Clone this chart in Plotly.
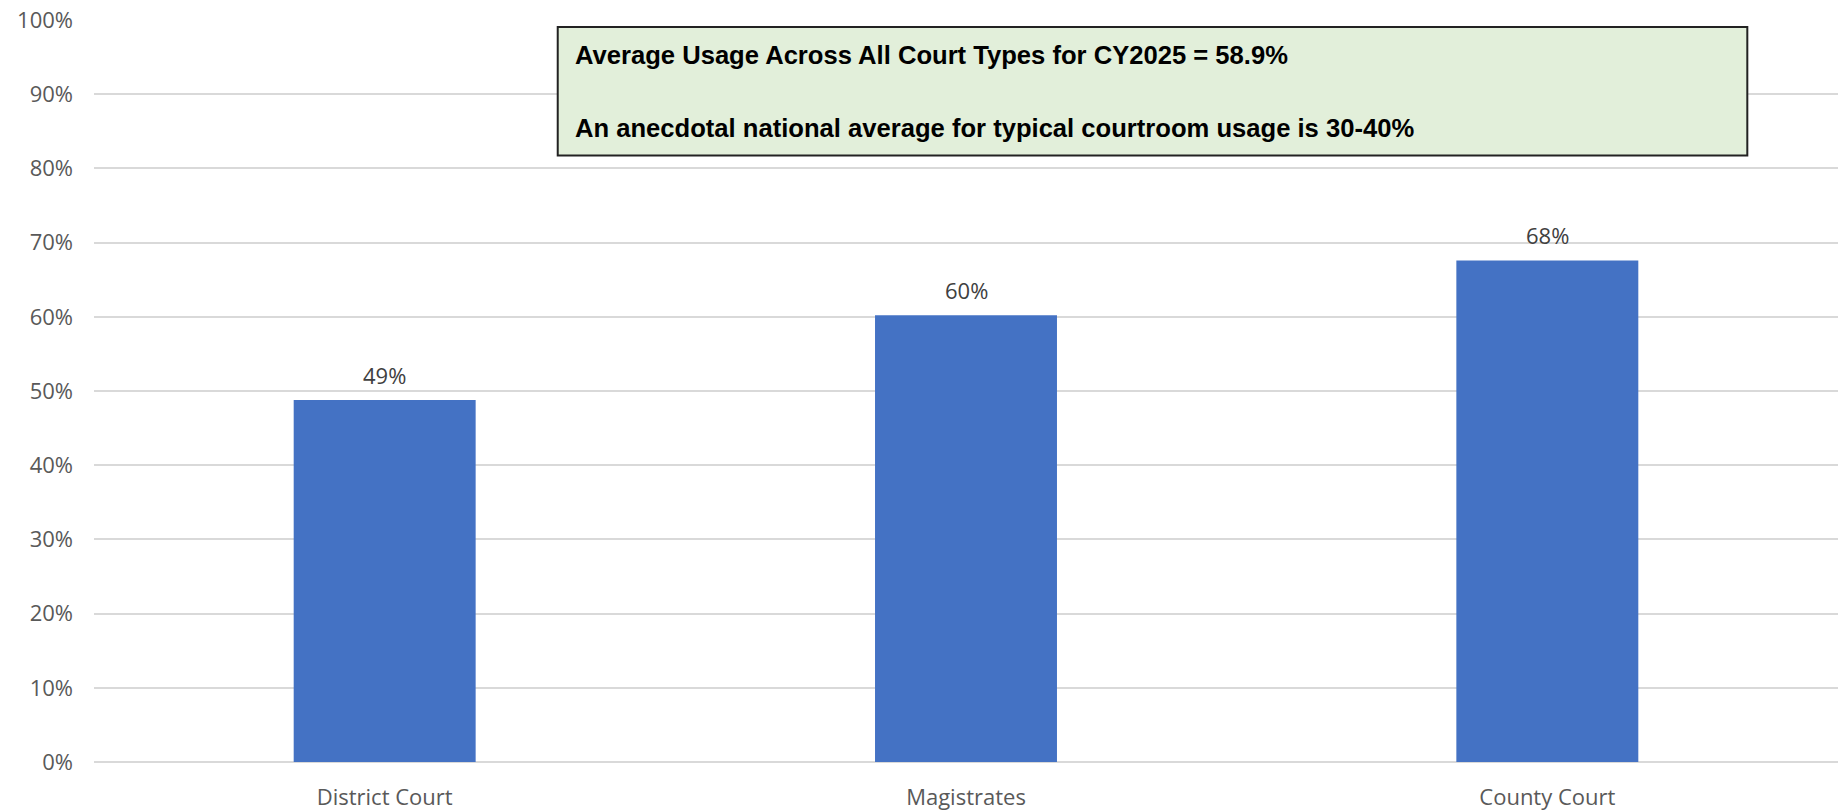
import plotly.graph_objects as go

categories = ["District Court", "Magistrates", "County Court"]
usage = [0.488, 0.602, 0.676]
label_text = ["49%", "60%", "68%"]
y_ticks = [0, 0.1, 0.2, 0.3, 0.4, 0.5, 0.6, 0.7, 0.8, 0.9, 1.0]
y_tick_text = ["0%", "10%", "20%", "30%", "40%", "50%", "60%", "70%", "80%", "90%", "100%"]
note_lines = [
    "Average Usage Across All Court Types for CY2025 = 58.9%",
    "An anecdotal national average for typical courtroom usage is 30-40%",
]

fig = go.Figure()
fig.add_trace(go.Bar(
    x=categories, y=usage,
    marker=dict(color="#4472C4", line=dict(width=0)),
    hoverinfo="skip",
))

for c, v, t in zip(categories, usage, label_text):
    fig.add_annotation(x=c, y=v, text=t, showarrow=False, yanchor="bottom",
                       yshift=8, font=dict(family="Open Sans", size=22, color="#404040"))

fig.add_shape(type="rect", xref="paper", yref="paper",
              x0=0.2659, x1=0.948, y0=0.8174, y1=0.9906,
              fillcolor="#E2EFDA", line=dict(color="#222222", width=2), layer="above")

for yy, txt in zip([0.9525, 0.8543], note_lines):
    fig.add_annotation(xref="paper", yref="paper", x=0.2745, y=yy, text="<b>" + txt + "</b>",
                       showarrow=False, xanchor="left", yanchor="middle",
                       font=dict(family="Liberation Sans Narrow, Arial Narrow, Liberation Sans, sans-serif",
                                 size=25.6, color="#000000"))

fig.update_layout(
    width=1838, height=812,
    margin=dict(l=94, r=0, t=20, b=50),
    paper_bgcolor="white", plot_bgcolor="white",
    bargap=0.687, showlegend=False,
    font=dict(family="Open Sans", size=22, color="#595959"),
)
fig.update_yaxes(range=[0, 1.0], tickvals=y_ticks, ticktext=y_tick_text,
                 showgrid=True, gridcolor="#D9D9D9", gridwidth=1.5,
                 zeroline=True, zerolinecolor="#D9D9D9", zerolinewidth=1.5,
                 showline=False, ticklabelstandoff=20,
                 tickfont=dict(family="Open Sans", size=22, color="#595959"))
fig.update_xaxes(showgrid=False, showline=False, ticklabelstandoff=20,
                 tickfont=dict(family="Open Sans", size=22, color="#595959"))

fig.write_html("out.html")
